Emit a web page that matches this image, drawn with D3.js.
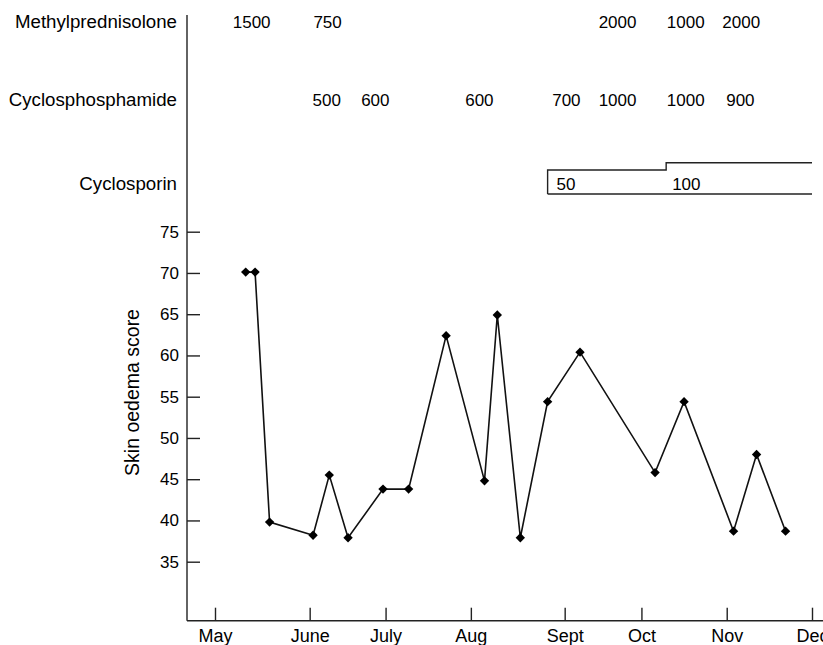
<!DOCTYPE html>
<html>
<head>
<meta charset="utf-8">
<script src="https://cdn.jsdelivr.net/npm/d3@7"></script>
<style>
  body { margin: 0; background: #fff; }
  svg { display: block; font-family: "Liberation Sans", Arial, Helvetica, sans-serif; }
  .axis path, .axis line, .frame { stroke: #222; stroke-width: 1.4; fill: none; }
  .axis text { fill: #000; }
</style>
</head>
<body>
<script>
// x unit = months after 1 May (0 = May, 7 = Dec)
var months = ["May", "June", "July", "Aug", "Sept", "Oct", "Nov", "Dec"];
var monthTicks = [0, 1.11, 2, 3, 4.1, 5, 6, 7];
var yTicks = [35, 40, 45, 50, 55, 60, 65, 70, 75];

// skin oedema score
var scorePos = [0.36, 0.47, 0.64, 1.15, 1.34, 1.56, 1.97, 2.27, 2.71, 3.16, 3.31, 3.58, 3.90, 4.28, 5.16, 5.50, 6.08, 6.35, 6.69];
var scoreVal = [70.1, 70.1, 39.8, 38.2, 45.5, 37.9, 43.8, 43.8, 62.4, 44.8, 64.9, 37.9, 54.4, 60.4, 45.8, 54.4, 38.7, 48.0, 38.7];

// drug doses
var methylPos = [0.43, 1.32, 4.72, 5.52, 6.17];
var methylDose = [1500, 750, 2000, 1000, 2000];
var cycloPos = [1.31, 1.88, 3.10, 4.12, 4.72, 5.52, 6.16];
var cycloDose = [500, 600, 600, 700, 1000, 1000, 900];
var csStart = [3.90, 5.29];
var csEnd = [5.29, 7.0];
var csDose = [50, 100];

var W = 823, H = 645;
var axisX = 187, axisY = 620.7, axisTop = 15;

var svg = d3.select("body").append("svg")
  .attr("width", W)
  .attr("height", H);

var x = d3.scaleLinear().domain([0, 7]).range([215, 812]);
var y = d3.scaleLinear().domain([35, 75]).range([561.7, 231.7]);
var csH = d3.scaleLinear().domain([50, 100]).range([24, 31.3]);

// axes lines
svg.append("line").attr("class", "frame")
  .attr("x1", axisX).attr("x2", axisX)
  .attr("y1", axisTop).attr("y2", axisY);
svg.append("line").attr("class", "frame")
  .attr("x1", axisX).attr("x2", W)
  .attr("y1", axisY).attr("y2", axisY);

// y axis
svg.append("g")
  .attr("class", "axis")
  .attr("transform", "translate(" + axisX + ",0)")
  .call(d3.axisLeft(y).tickValues(yTicks).tickSize(-13).tickPadding(8))
  .call(function(g) { g.select(".domain").remove(); })
  .selectAll("text")
  .style("font-size", "17px");

// x axis
var monthTick = d3.scaleOrdinal().domain(monthTicks).range(months);
svg.append("g")
  .attr("class", "axis")
  .attr("transform", "translate(0," + axisY + ")")
  .call(d3.axisBottom(x).tickValues(monthTicks).tickSize(-13).tickPadding(9)
    .tickFormat(function(d) { return monthTick(d); }))
  .call(function(g) { g.select(".domain").remove(); })
  .selectAll("text")
  .style("font-size", "18px");

svg.append("text")
  .attr("transform", "translate(138.5," + 392.5 + ") rotate(-90)")
  .attr("text-anchor", "middle")
  .style("font-size", "19.5px")
  .attr("fill", "#000")
  .text("Skin oedema score");

// drug rows
var rows = [
  {label: "Methylprednisolone", base: 27.5, pos: methylPos, dose: methylDose},
  {label: "Cyclosphosphamide", base: 106, pos: cycloPos, dose: cycloDose},
  {label: "Cyclosporin", base: 190, pos: [], dose: []}
];

rows.forEach(function(r) {
  svg.append("text")
    .attr("x", 177)
    .attr("y", r.base)
    .attr("text-anchor", "end")
    .style("font-size", "18.7px")
    .attr("fill", "#000")
    .text(r.label);
  svg.selectAll(null)
    .data(r.pos)
    .enter().append("text")
    .attr("x", function(d) { return x(d); })
    .attr("y", r.base)
    .attr("text-anchor", "middle")
    .style("font-size", "17px")
    .attr("fill", "#000")
    .text(function(d, i) { return r.dose[i]; });
});

// cyclosporin step box
var csBottom = 194;
var pts = [[x(csStart[0]), csBottom]];
csStart.forEach(function(s, i) {
  pts.push([x(s), csBottom - csH(csDose[i])]);
  pts.push([x(csEnd[i]), csBottom - csH(csDose[i])]);
});
svg.append("path")
  .attr("class", "frame")
  .attr("d", d3.line()(pts));
svg.append("line").attr("class", "frame")
  .attr("x1", x(csStart[0])).attr("x2", x(csEnd[csEnd.length - 1]))
  .attr("y1", csBottom).attr("y2", csBottom);
svg.selectAll(".csdose")
  .data(csStart)
  .enter().append("text")
  .attr("class", "csdose")
  .attr("x", function(d, i) { return x(d) + (i == 0 ? 9 : 6); })
  .attr("y", 190)
  .style("font-size", "17px")
  .attr("fill", "#000")
  .text(function(d, i) { return csDose[i]; });

// score line + diamonds
var data = scorePos.map(function(p, i) { return {p: p, v: scoreVal[i]}; });

svg.append("path")
  .datum(data)
  .attr("fill", "none")
  .attr("stroke", "#111")
  .attr("stroke-width", 1.6)
  .attr("d", d3.line()
    .x(function(d) { return x(d.p); })
    .y(function(d) { return y(d.v); }));

svg.selectAll(".dot")
  .data(data)
  .enter().append("path")
  .attr("class", "dot")
  .attr("d", d3.symbol(d3.symbolSquare, 44))
  .attr("fill", "#000")
  .attr("transform", function(d) { return "translate(" + x(d.p) + "," + y(d.v) + ") rotate(45)"; });
</script>
</body>
</html>
